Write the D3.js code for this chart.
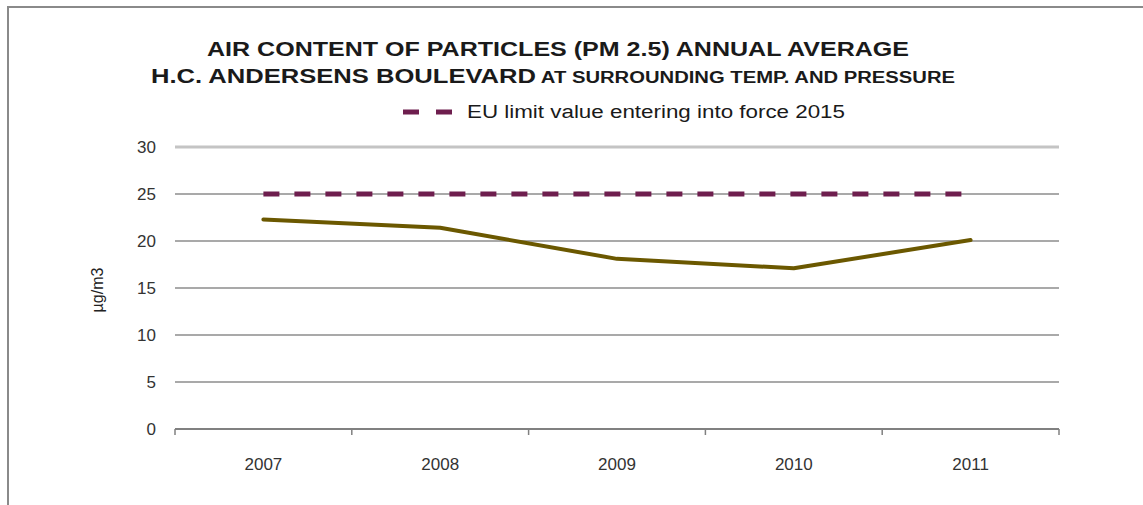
<!DOCTYPE html>
<html>
<head>
<meta charset="utf-8">
<script src="https://cdn.jsdelivr.net/npm/d3@7"></script>
<style>
  html, body { margin: 0; padding: 0; background: #fff; }
  svg { display: block; font-family: "Liberation Sans", Arial, sans-serif; }
</style>
</head>
<body>
<svg id="chart" width="1143" height="505"></svg>
<script>
// Annual average PM2.5, H.C. Andersens Boulevard (µg/m3)
const years = ["2007", "2008", "2009", "2010", "2011"];
const pm25 = [22.3, 21.4, 18.1, 17.1, 20.1];
const euLimit = [25, 25, 25, 25, 25];
const yTicks = [0, 5, 10, 15, 20, 25, 30];

const titleLine1 = "AIR CONTENT OF PARTICLES (PM 2.5) ANNUAL AVERAGE";
const titleLine2a = "H.C. ANDERSENS BOULEVARD";
const titleLine2b = " AT SURROUNDING TEMP. AND PRESSURE";
const legendLabel = "EU limit value entering into force 2015";
const yLabel = "µg/m3";

const svg = d3.select("#chart");

// outer frame (left and top edges)
svg.append("path")
  .attr("d", "M8,505 L8,7 L1143,7")
  .attr("fill", "none")
  .attr("stroke", "#8a8a8a")
  .attr("stroke-width", 2);

const x = d3.scaleBand().domain(years).range([175, 1059]).padding(0);
const y = d3.scaleLinear().domain([0, 30]).range([429, 147]);
const cx = d => x(d) + x.bandwidth() / 2;

// horizontal gridlines
svg.append("g")
  .selectAll("line")
  .data(yTicks.filter(t => t > 0))
  .join("line")
  .attr("x1", 175).attr("x2", 1059)
  .attr("y1", d => y(d)).attr("y2", d => y(d))
  .attr("stroke", d => d === 30 ? "#c4c4c4" : "#8c8c8c")
  .attr("stroke-width", d => d === 30 ? 3 : 1.5);

// y axis labels
const yAxis = d3.axisLeft(y).tickValues(yTicks).tickSize(0).tickPadding(19);
const gy = svg.append("g").attr("transform", "translate(175,0)").call(yAxis);
gy.attr("font-size", null).attr("font-family", null);
gy.select(".domain").remove();
gy.selectAll("text")
  .attr("font-size", 17)
  .attr("fill", "#333");

// x axis with category boundary ticks
const gx = svg.append("g").attr("transform", "translate(0,429)");
gx.append("line")
  .attr("x1", 175).attr("x2", 1059)
  .attr("stroke", "#808080").attr("stroke-width", 2);
const bounds = years.map(d => x(d)).concat([x(years[years.length - 1]) + x.bandwidth()]);
gx.selectAll("line.tick")
  .data(bounds)
  .join("line")
  .attr("class", "tick")
  .attr("x1", d => d).attr("x2", d => d)
  .attr("y1", 0).attr("y2", 6)
  .attr("stroke", "#808080").attr("stroke-width", 1.5);
gx.selectAll("text")
  .data(years)
  .join("text")
  .attr("x", d => cx(d))
  .attr("y", 41)
  .attr("text-anchor", "middle")
  .attr("font-size", 17)
  .attr("fill", "#333")
  .text(d => d);

// y axis title
svg.append("text")
  .attr("transform", "translate(103,290) rotate(-90)")
  .attr("text-anchor", "middle")
  .attr("font-size", 16)
  .attr("fill", "#222")
  .text(yLabel);

// EU limit value (dashed)
const line = d3.line().x((d, i) => cx(years[i])).y(d => y(d));
svg.append("path")
  .datum(euLimit)
  .attr("d", line)
  .attr("fill", "none")
  .attr("stroke", "#6e1e4e")
  .attr("stroke-width", 5)
  .attr("stroke-dasharray", "16,15");

// PM2.5 series
svg.append("path")
  .datum(pm25)
  .attr("d", line)
  .attr("fill", "none")
  .attr("stroke", "#6b5800")
  .attr("stroke-width", 4)
  .attr("stroke-linejoin", "round")
  .attr("stroke-linecap", "round");

// titles
svg.append("text")
  .attr("x", 558).attr("y", 56)
  .attr("text-anchor", "middle")
  .attr("font-size", 21)
  .attr("font-weight", "bold")
  .attr("fill", "#1a1a1a")
  .attr("textLength", 702)
  .attr("lengthAdjust", "spacingAndGlyphs")
  .text(titleLine1);

const t2 = svg.append("text")
  .attr("x", 151).attr("y", 83)
  .attr("font-weight", "bold")
  .attr("fill", "#1a1a1a");
t2.append("tspan")
  .attr("font-size", 21)
  .attr("textLength", 385)
  .attr("lengthAdjust", "spacingAndGlyphs")
  .text(titleLine2a);
t2.append("tspan")
  .attr("font-size", 16)
  .attr("textLength", 419)
  .attr("lengthAdjust", "spacingAndGlyphs")
  .text(titleLine2b);

// legend
const lg = svg.append("g");
lg.append("line")
  .attr("x1", 403).attr("x2", 452)
  .attr("y1", 112).attr("y2", 112)
  .attr("stroke", "#6e1e4e")
  .attr("stroke-width", 5)
  .attr("stroke-dasharray", "16,17");
lg.append("text")
  .attr("x", 467).attr("y", 118)
  .attr("font-size", 18)
  .attr("fill", "#1a1a1a")
  .attr("textLength", 378)
  .attr("lengthAdjust", "spacingAndGlyphs")
  .text(legendLabel);
</script>
</body>
</html>
